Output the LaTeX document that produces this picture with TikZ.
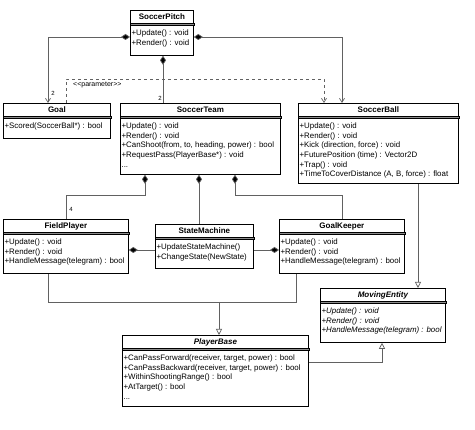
\documentclass[tikz,border=0pt]{standalone}
\usepackage{fontspec}
\setmainfont{Liberation Sans}
\usetikzlibrary{arrows.meta,positioning,calc}
\colorlet{linegray}{black!62}

% one UML class: name, x, y, width, height, title, operations
\newcommand{\umlclass}[7]{%
  \node[classbox, minimum width=#4, minimum height=#5] (#1) at (#2,#3) {};
  \node[classname] (#1-name) at ([yshift=-7pt]#1.north) {#6};
  \draw[classsep] ([yshift=-13pt]#1.north west) rectangle ([yshift=-15.5pt]#1.north east);
  \node[classops] (#1-ops) at ([yshift=-18pt]#1.north west) {#7};
}

\begin{document}
\begin{tikzpicture}[x=1pt, y=-1pt]
    \tikzstyle{classbox} = [rectangle, draw, line width=0.8pt, anchor=north west, inner sep=0pt]
    \tikzstyle{classname} = [inner sep=0pt, font=\fontsize{8}{9}\selectfont\bfseries]
    \tikzstyle{classops} = [anchor=north west, align=left, inner sep=1.4pt, font=\fontsize{7.9}{9.7}\selectfont]
    \tikzstyle{classsep} = [draw, line width=0.6pt, fill=black!45]
    \tikzstyle{link} = [draw=linegray, line width=0.7pt]
    \tikzstyle{compo} = [link, {Diamond[length=9pt,width=6pt,fill=black]}-]
    \tikzstyle{componavi} = [link, {Diamond[length=9pt,width=6pt,fill=black]}-{Straight Barb[length=4pt,width=5pt]}]
    \tikzstyle{navi} = [link, -{Straight Barb[length=4pt,width=5pt]}]
    \tikzstyle{inherit} = [link, -{Triangle[open,length=6pt,width=6pt,fill=white]}]
    \tikzstyle{mult} = [inner sep=0pt, font=\fontsize{6}{6}\selectfont]
    \useasboundingbox[fill=white] (0,0) rectangle (475,430);

    % Klassen
    \umlclass{pitch}{130}{10}{63}{45}{SoccerPitch}{+Update() : void\\+Render() : void}
    \umlclass{goal}{3}{103}{107}{35}{Goal}{+Scored(SoccerBall*) : bool}
    \umlclass{team}{120}{103}{160}{71}{SoccerTeam}{+Update() : void\\+Render() : void\\+CanShoot(from, to, heading, power) : bool\\+RequestPass(PlayerBase*) : void\\...}
    \umlclass{ball}{298}{103}{160}{80}{SoccerBall}{+Update() : void\\+Render() : void\\+Kick (direction, force) : void\\+FuturePosition (time) : Vector2D\\+Trap() : void\\+TimeToCoverDistance (A, B, force) : float}
    \umlclass{field}{3}{219}{125}{54}{FieldPlayer}{+Update() : void\\+Render() : void\\+HandleMessage(telegram) : bool}
    \umlclass{sm}{155}{224}{98}{44}{StateMachine}{+UpdateStateMachine()\\+ChangeState(NewState)}
    \umlclass{keeper}{279}{219}{125}{54}{GoalKeeper}{+Update() : void\\+Render() : void\\+HandleMessage(telegram) : bool}
    \umlclass{base}{122}{335}{186}{71}{\itshape PlayerBase}{+CanPassForward(receiver, target, power) : bool\\+CanPassBackward(receiver, target, power) : bool\\+WithinShootingRange() : bool\\+AtTarget() : bool\\...}
    \umlclass{moving}{320}{288}{125}{54}{\itshape MovingEntity}{\itshape +Update() : void\\\itshape +Render() : void\\\itshape +HandleMessage(telegram) : bool}

    % Beziehungen
    \draw[componavi] (pitch.west |- 0,37) -| (goal.north -| 48,0) node[mult, pos=0.93, right=3pt] {2};
    \draw[componavi] (pitch.east |- 0,37) -| (ball.north -| 342,0);
    \draw[compo] (pitch.south -| 163,0) -- (team.north -| 163,0) node[mult, pos=0.9, left=1pt] {2};
    \draw[navi, dashed] (goal.north -| 66,0) -- (66,79) -- (324,79) -- (ball.north -| 324,0);
    \node[mult, font=\fontsize{7}{7}\selectfont, anchor=west] (param) at (73,85) {<{}<parameter>{}>};

    \draw[compo] (team.south -| 145,0) -- (145,195) -- (66,195) -- (field.north -| 66,0) node[mult, pos=0.6, right=3pt] {4};
    \draw[compo] (team.south -| 199,0) -- (sm.north -| 199,0);
    \draw[compo] (team.south -| 235,0) -- (235,195) -- (342,195) -- (keeper.north -| 342,0);
    \draw[compo] (field.east |- 0,250) -- (sm.west |- 0,250);
    \draw[compo] (keeper.west |- 0,250) -- (sm.east |- 0,250);

    \coordinate (join) at (219,302);
    \draw[link] (field.south -| 48,0) |- (join);
    \draw[link] (keeper.south -| 296,0) |- (join);
    \draw[inherit] (join) -- (base.north -| join);
    \draw[inherit] (ball.south -| 418,0) -- (moving.north -| 418,0);
    \draw[inherit] (base.east |- 0,362) -| (moving.south -| 382,0);
\end{tikzpicture}
\end{document}
